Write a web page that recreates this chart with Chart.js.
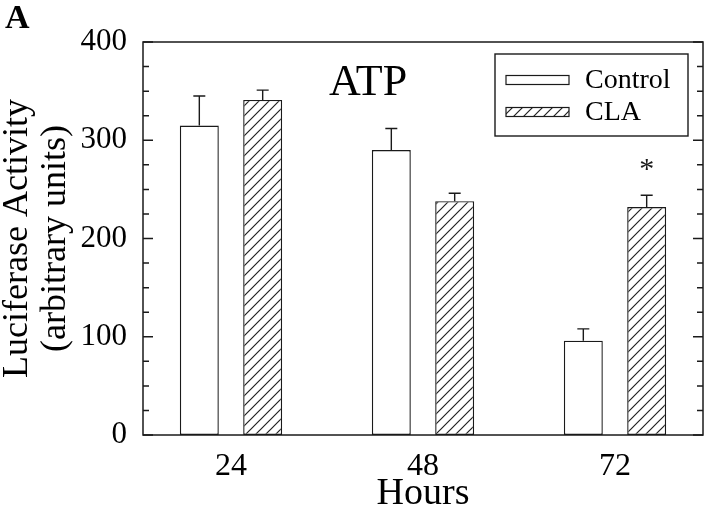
<!DOCTYPE html>
<html>
<head>
<meta charset="utf-8">
<script src="https://cdn.jsdelivr.net/npm/chart.js@4.4.1/dist/chart.umd.min.js"></script>
<style>
    html, body { margin: 0; padding: 0; background: #fff; }
    #chart { display: block; }
</style>
</head>
<body>
<canvas id="chart" width="706" height="507"></canvas>
<script>
// Data
const hours = [24, 48, 72];
const controlValues = [315, 290, 96];
const controlErrors = [30, 22, 12];
const claValues = [341, 238, 232];
const claErrors = [10, 8, 12];
const yTicks = [0, 100, 200, 300, 400];
const significant = [false, false, true]; // asterisk over CLA

const FONT = '"Liberation Serif", "Times New Roman", serif';
const INK = '#1a1a1a';

function makeHatch() {
    const size = 10;
    const c = document.createElement('canvas');
    c.width = size;
    c.height = size;
    const g = c.getContext('2d');
    g.fillStyle = '#fff';
    g.fillRect(0, 0, size, size);
    g.strokeStyle = '#222';
    g.lineWidth = 1.2;
    g.beginPath();
    g.moveTo(-1, size + 1);
    g.lineTo(size + 1, -1);
    g.moveTo(-2, 2);
    g.lineTo(2, -2);
    g.moveTo(size - 2, size + 2);
    g.lineTo(size + 2, size - 2);
    g.stroke();
    return g.createPattern(c, 'repeat');
}

const ctx = document.getElementById('chart').getContext('2d');
const hatch = makeHatch();

// Frame, inward ticks, error bars, legend and labels
const decorations = {
    id: 'decorations',
    afterDatasetsDraw(chart) {
        const { ctx, chartArea: a, scales: { y } } = chart;
        ctx.save();
        ctx.strokeStyle = INK;
        ctx.lineWidth = 1.4;

        // error bars (upper only)
        const sets = [[controlValues, controlErrors], [claValues, claErrors]];
        sets.forEach(([vals, errs], di) => {
            const meta = chart.getDatasetMeta(di);
            meta.data.forEach((bar, i) => {
                const top = y.getPixelForValue(vals[i] + errs[i]);
                ctx.beginPath();
                ctx.moveTo(bar.x, bar.y);
                ctx.lineTo(bar.x, top);
                ctx.moveTo(bar.x - 6, top);
                ctx.lineTo(bar.x + 6, top);
                ctx.stroke();
            });
        });

        // significance marks
        const claMeta = chart.getDatasetMeta(1);
        ctx.fillStyle = INK;
        ctx.font = '30px ' + FONT;
        ctx.textAlign = 'center';
        ctx.textBaseline = 'alphabetic';
        significant.forEach((s, i) => {
            if (!s) return;
            const bar = claMeta.data[i];
            const top = y.getPixelForValue(claValues[i] + claErrors[i]);
            const m = ctx.measureText('*');
            const h = m.actualBoundingBoxAscent - m.actualBoundingBoxDescent;
            const cy = top - 23;
            ctx.fillText('*', bar.x, cy + m.actualBoundingBoxAscent - h / 2);
        });

        // frame
        ctx.lineWidth = 1.5;
        ctx.strokeRect(a.left, a.top, a.right - a.left, a.bottom - a.top);

        // inward ticks on left and right
        for (let v = 0; v <= 400; v += 25) {
            const py = y.getPixelForValue(v);
            const len = v % 100 === 0 ? 10 : 6;
            ctx.beginPath();
            ctx.moveTo(a.left, py);
            ctx.lineTo(a.left + len, py);
            ctx.moveTo(a.right, py);
            ctx.lineTo(a.right - len, py);
            ctx.stroke();
        }

        // legend
        const lx = a.left + 352, ly = a.top + 12;
        ctx.lineWidth = 1.4;
        ctx.strokeRect(lx, ly, 193, 82);
        chart.data.datasets.forEach((ds, i) => {
            const sy = ly + 26 + i * 32;
            ctx.fillStyle = ds.backgroundColor;
            ctx.fillRect(lx + 11, sy - 4.5, 63, 9);
            ctx.lineWidth = 1.2;
            ctx.strokeRect(lx + 11, sy - 4.5, 63, 9);
            ctx.fillStyle = '#000';
            ctx.font = '28px ' + FONT;
            ctx.textAlign = 'left';
            ctx.textBaseline = 'middle';
            ctx.fillText(ds.label, lx + 90, sy + 1);
        });

        // panel title
        ctx.fillStyle = '#000';
        ctx.font = '44px ' + FONT;
        ctx.textAlign = 'center';
        ctx.textBaseline = 'middle';
        ctx.fillText('ATP', 368, 83);

        // panel letter
        ctx.font = 'bold 34px ' + FONT;
        ctx.textAlign = 'left';
        ctx.textBaseline = 'alphabetic';
        ctx.fillText('A', 5, 28);
        ctx.restore();
    }
};

new Chart(ctx, {
    type: 'bar',
    data: {
        datasets: [{
            label: 'Control',
            data: hours.map((h, i) => ({ x: h, y: controlValues[i] })),
            backgroundColor: '#ffffff',
            borderColor: INK,
            borderWidth: 1.4,
            borderSkipped: false
        }, {
            label: 'CLA',
            data: hours.map((h, i) => ({ x: h, y: claValues[i] })),
            backgroundColor: hatch,
            borderColor: INK,
            borderWidth: 1.4,
            borderSkipped: false
        }]
    },
    options: {
        responsive: false,
        animation: false,
        categoryPercentage: 0.66,
        barPercentage: 0.615,
        layout: { padding: { top: 42, right: 3, left: 0, bottom: 0 } },
        plugins: {
            legend: { display: false },
            tooltip: { enabled: false }
        },
        scales: {
            x: {
                type: 'linear',
                min: 13,
                max: 83,
                offset: false,
                afterBuildTicks: scale => {
                    scale.ticks = hours.map(v => ({ value: v }));
                },
                afterFit: scale => { scale.height = 72; },
                grid: { display: false, drawTicks: false, offset: false },
                border: { display: false },
                ticks: {
                    color: '#000',
                    font: { family: FONT, size: 32 },
                    padding: 12,
                    maxRotation: 0,
                    autoSkip: false
                },
                title: {
                    display: true,
                    text: 'Hours',
                    color: '#000',
                    font: { family: FONT, size: 38, lineHeight: 1 },
                    padding: { top: 0, bottom: -6 }
                }
            },
            y: {
                min: 0,
                max: 400,
                afterBuildTicks: scale => {
                    scale.ticks = yTicks.map(v => ({ value: v }));
                },
                afterFit: scale => { scale.width = 143; },
                grid: { display: false, drawTicks: false },
                border: { display: false },
                ticks: {
                    color: '#000',
                    font: { family: FONT, size: 31 },
                    padding: 16
                },
                title: {
                    display: true,
                    text: ['Luciferase Activity', '(arbitrary units)'],
                    color: '#000',
                    font: { family: FONT, size: 36, lineHeight: 1.06 },
                    padding: { top: -2, bottom: 0 }
                }
            }
        }
    },
    plugins: [decorations]
});
</script>
</body>
</html>
